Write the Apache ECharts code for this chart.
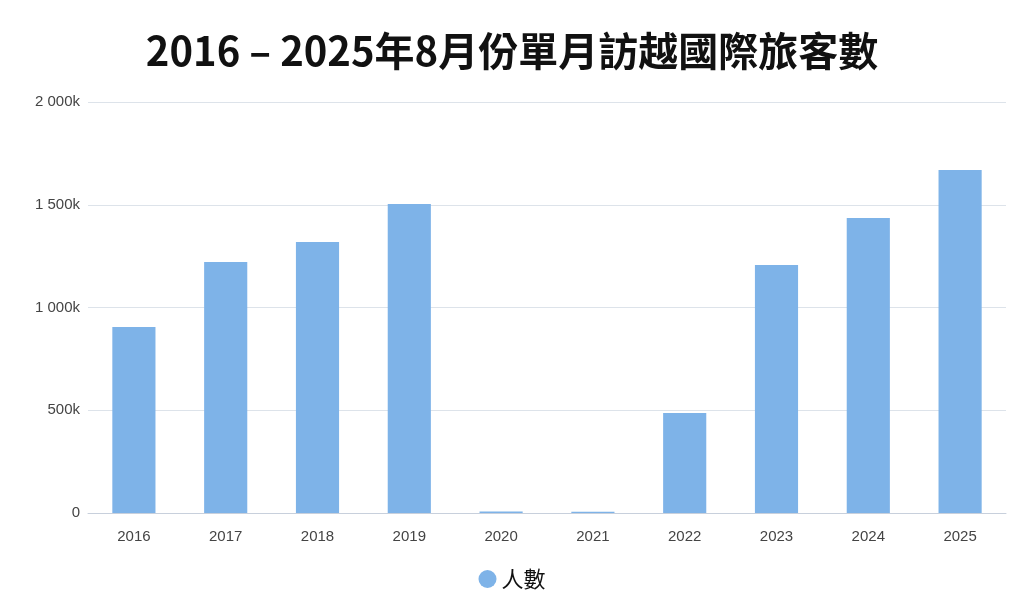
<!DOCTYPE html>
<html>
<head>
<meta charset="utf-8">
<script src="https://cdn.jsdelivr.net/npm/echarts@6/dist/echarts.min.js"></script>
<style>html,body{margin:0;padding:0;background:#fff}#main{width:1024px;height:609px}</style>
</head>
<body>
<div id="main"></div>
<script>
// 2016-2025 八月份訪越國際旅客
var years = ['2016', '2017', '2018', '2019', '2020', '2021', '2022', '2023', '2024', '2025']
var visitors = [905000, 1221000, 1319000, 1504000, 7000, 6000, 487000, 1207000, 1436000, 1669000]

var myChart = echarts.init(document.getElementById('main'))

var option = {
    title: {
        text: '2016 – 2025年8月份單月訪越國際旅客數',
        left: 'center',
        top: 26,
        textStyle: {
            fontFamily: 'Noto Sans CJK TC',
            fontSize: 40,
            fontWeight: 'bold',
            color: '#111'
        }
    },
    legend: {
        bottom: 14,
        left: 'center',
        icon: 'circle',
        itemWidth: 18,
        itemHeight: 18,
        textStyle: { fontSize: 22, color: '#111', fontFamily: 'Noto Sans CJK TC' },
        data: ['人數']
    },
    grid: { left: 88, right: 18, top: 102, bottom: 96 },
    xAxis: {
        type: 'category',
        data: years,
        axisTick: { show: false },
        axisLine: { lineStyle: { color: '#c8d0dc' } },
        axisLabel: { color: '#444', fontSize: 15, margin: 16 }
    },
    yAxis: {
        type: 'value',
        min: 0,
        max: 2000000,
        interval: 500000,
        axisLabel: {
            color: '#444',
            fontSize: 15,
            formatter: function (v) {
                if (v === 0) return '0'
                var k = v / 1000
                return (k >= 1000 ? Math.floor(k / 1000) + ' ' + String(k % 1000).padStart(3, '0') : k) + 'k'
            }
        },
        splitLine: { lineStyle: { color: '#dde3ea' } }
    },
    series: [
        {
            name: '人數',
            type: 'bar',
            barWidth: '47%',
            data: visitors,
            itemStyle: { color: '#7eb3e8' }
        }
    ]
}

myChart.setOption(option)
</script>
</body>
</html>
